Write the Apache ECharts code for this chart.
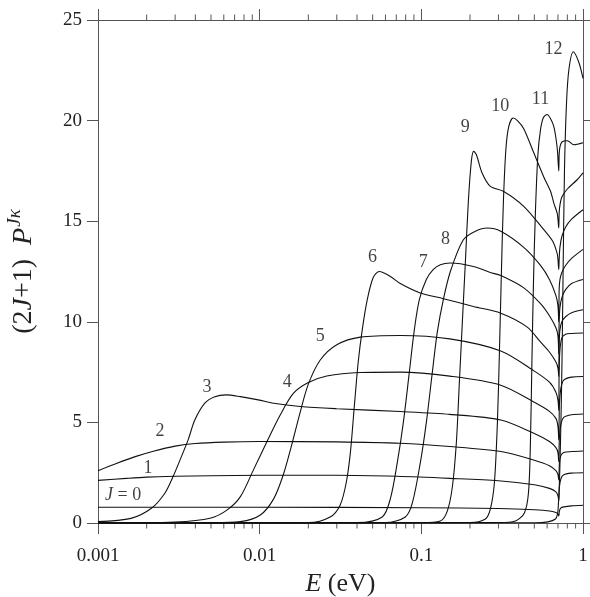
<!DOCTYPE html>
<html><head><meta charset="utf-8">
<script src="https://cdn.jsdelivr.net/npm/echarts@6/dist/echarts.min.js"></script>
<style>html,body{margin:0;padding:0;background:#fff}#c{width:590px;height:597px}</style>
</head><body><div id="c"></div>
<script>
// ---- axis ticks ----
const xMajorTicks = [0.001, 0.01, 0.1, 1];
const xMinorTicks = [0.002,0.003,0.004,0.005,0.006,0.007,0.008,0.009,
                     0.02,0.03,0.04,0.05,0.06,0.07,0.08,0.09,
                     0.2,0.3,0.4,0.5,0.6,0.7,0.8,0.9];
const yTicks = [0, 5, 10, 15, 20, 25];

// ---- curves: E (eV) and (2J+1)P values ----
const E0 = [0.001, 0.01, 0.1, 0.3, 0.5, 0.62, 0.68, 0.70, 0.708, 0.715, 0.73, 0.76, 0.85, 1];
const P0 = [0.78, 0.78, 0.76, 0.72, 0.66, 0.6, 0.52, 0.45, 0.35, 0.6, 0.75, 0.8, 0.85, 0.88];

const E1 = [0.001, 0.0015, 0.002, 0.003, 0.005, 0.01, 0.03, 0.07, 0.15, 0.3, 0.5, 0.62, 0.68, 0.70, 0.708, 0.715, 0.73, 0.76, 0.85, 1];
const P1 = [2.12, 2.22, 2.28, 2.32, 2.35, 2.37, 2.37, 2.32, 2.22, 2.1, 1.9, 1.72, 1.55, 1.35, 1.1, 1.8, 2.2, 2.4, 2.48, 2.5];

const E2 = [0.001, 0.0013, 0.0017, 0.0022, 0.003, 0.004, 0.006, 0.01, 0.03, 0.074, 0.15, 0.31, 0.5, 0.62, 0.68, 0.70, 0.708, 0.715, 0.73, 0.76, 0.85, 1];
const P2 = [2.6, 2.96, 3.3, 3.57, 3.82, 3.95, 4.02, 4.05, 4.03, 3.96, 3.8, 3.55, 3.12, 2.85, 2.6, 2.4, 2.14, 3.0, 3.35, 3.5, 3.55, 3.58];

const E3 = [0.001, 0.0016, 0.00214, 0.00259, 0.00291, 0.00328, 0.00361, 0.00397, 0.00458, 0.00528, 0.0062, 0.0076, 0.0098, 0.0122, 0.0178, 0.03, 0.074, 0.15, 0.31, 0.5, 0.62, 0.68, 0.70, 0.708, 0.715, 0.73, 0.76, 0.85, 1];
const P3 = [0.07, 0.23, 0.73, 1.48, 2.3, 3.3, 4.13, 5.12, 5.96, 6.28, 6.37, 6.28, 6.12, 5.95, 5.79, 5.68, 5.54, 5.4, 5.12, 4.45, 4.05, 3.75, 3.5, 3.05, 4.3, 4.9, 5.25, 5.38, 5.42];

const E4 = [0.001, 0.003, 0.005, 0.0063, 0.0076, 0.00915, 0.0111, 0.0134, 0.0162, 0.02, 0.026, 0.042, 0.074, 0.15, 0.31, 0.5, 0.62, 0.68, 0.70, 0.708, 0.715, 0.73, 0.76, 0.85, 1];
const P4 = [0.0, 0.05, 0.25, 0.65, 1.31, 2.64, 4.05, 5.37, 6.45, 6.98, 7.31, 7.48, 7.5, 7.3, 6.85, 6.0, 5.55, 5.2, 4.8, 4.13, 5.9, 6.7, 7.1, 7.25, 7.28];

const E5 = [0.001, 0.005, 0.0076, 0.0101, 0.0122, 0.014, 0.0158, 0.0178, 0.02, 0.0237, 0.03, 0.042, 0.074, 0.15, 0.31, 0.5, 0.62, 0.68, 0.70, 0.708, 0.712, 0.72, 0.74, 0.78, 0.85, 1];
const P5 = [0, 0.01, 0.07, 0.4, 1.2, 2.4, 3.9, 5.5, 6.9, 8.1, 8.86, 9.24, 9.32, 9.15, 8.55, 7.55, 7.0, 6.5, 6.1, 5.6, 7.6, 8.6, 9.2, 9.38, 9.42, 9.44];

const E6 = [0.001, 0.02, 0.0273, 0.0315, 0.0343, 0.0364, 0.0385, 0.0407, 0.0431, 0.0463, 0.0504, 0.055, 0.0643, 0.0741, 0.0986, 0.137, 0.21, 0.31, 0.45, 0.546, 0.62, 0.68, 0.70, 0.708, 0.712, 0.72, 0.74, 0.78, 0.85, 1];
const P6 = [0, 0.02, 0.3, 0.9, 2.0, 3.5, 5.8, 8.0, 9.6, 11.1, 12.2, 12.5, 12.25, 11.9, 11.43, 11.15, 10.76, 10.43, 9.75, 9.0, 8.5, 8.0, 7.7, 7.28, 8.9, 9.6, 10.0, 10.25, 10.45, 10.6];

const E7 = [0.001, 0.04, 0.0573, 0.0643, 0.071, 0.0774, 0.0843, 0.0905, 0.0972, 0.1074, 0.1187, 0.1311, 0.1512, 0.21, 0.267, 0.31, 0.428, 0.546, 0.62, 0.68, 0.70, 0.708, 0.712, 0.72, 0.74, 0.78, 0.85, 1];
const P7 = [0, 0.02, 0.3, 1.2, 3.0, 5.0, 7.5, 9.6, 11.1, 12.1, 12.6, 12.84, 12.92, 12.75, 12.45, 12.3, 11.7, 10.9, 10.3, 9.7, 9.3, 8.4, 10.0, 10.7, 11.2, 11.6, 11.9, 12.1];

const E8 = [0.001, 0.06, 0.0796, 0.088, 0.0986, 0.1074, 0.117, 0.1256, 0.1368, 0.1512, 0.182, 0.216, 0.256, 0.31, 0.43, 0.546, 0.62, 0.68, 0.70, 0.708, 0.712, 0.72, 0.74, 0.78, 0.85, 1];
const P8 = [0, 0.02, 0.3, 1.0, 3.0, 5.0, 7.5, 9.5, 11.1, 12.5, 14.08, 14.5, 14.66, 14.5, 13.7, 12.8, 12.1, 11.3, 10.8, 10.0, 11.6, 12.1, 12.45, 12.8, 13.15, 13.6];

const E9 = [0.001, 0.1, 0.1311, 0.1449, 0.1556, 0.1647, 0.1719, 0.1794, 0.1873, 0.1954, 0.204, 0.2108, 0.2191, 0.2376, 0.2674, 0.3233, 0.43, 0.572, 0.65, 0.692, 0.70, 0.708, 0.712, 0.72, 0.74, 0.78, 0.85, 1];
const P9 = [0, 0.02, 0.1, 0.6, 1.8, 4.0, 7.0, 10.0, 13.0, 16.0, 18.0, 18.47, 18.3, 17.4, 16.73, 16.48, 15.74, 14.58, 14.0, 13.4, 13.1, 12.6, 13.1, 13.7, 14.24, 14.7, 15.1, 15.57];

const E10 = [0.001, 0.2, 0.249, 0.2674, 0.2831, 0.2955, 0.3041, 0.3129, 0.3219, 0.3336, 0.3472, 0.3697, 0.393, 0.43, 0.496, 0.572, 0.629, 0.66, 0.692, 0.70, 0.708, 0.712, 0.72, 0.74, 0.8, 0.92, 1];
const P10 = [0, 0.02, 0.2, 0.7, 2.0, 5.0, 8.5, 12.5, 16.0, 18.6, 19.7, 20.13, 20.0, 19.6, 18.4, 17.2, 16.5, 15.9, 15.4, 15.1, 14.66, 15.4, 15.8, 16.2, 16.6, 17.06, 17.4];

const E11 = [0.001, 0.3, 0.382, 0.434, 0.46, 0.473, 0.483, 0.494, 0.508, 0.526, 0.546, 0.569, 0.6, 0.629, 0.66, 0.681, 0.695, 0.708, 0.712, 0.72, 0.743, 0.8, 0.877, 1];
const P11 = [0, 0.02, 0.1, 0.5, 1.5, 4.0, 8.0, 12.0, 15.5, 18.3, 19.55, 20.15, 20.3, 20.1, 19.7, 19.1, 18.5, 17.5, 18.3, 18.7, 18.95, 19.0, 18.8, 18.9];

const E12 = [0.001, 0.5, 0.6755, 0.705, 0.7256, 0.7413, 0.752, 0.768, 0.79, 0.817, 0.87, 0.942, 1];
const P12 = [0, 0.01, 0.2, 1.0, 4.0, 8.0, 12.0, 17.5, 20.8, 22.5, 23.42, 22.9, 22.1];

// ---- curve labels ----
const labelText = ['{i|J} = 0', '1', '2', '3', '4', '5', '6', '7', '8', '9', '10', '11', '12'];
const labelE = [0.00143, 0.00204, 0.00242, 0.00473, 0.0148, 0.0237, 0.0498, 0.1028, 0.141, 0.187, 0.308, 0.546, 0.656];
const labelP = [1.38, 2.74, 4.58, 6.77, 7.01, 9.30, 13.23, 12.94, 14.08, 19.65, 20.7, 21.04, 23.53];

const curvesE = [E0,E1,E2,E3,E4,E5,E6,E7,E8,E9,E10,E11,E12];
const curvesP = [P0,P1,P2,P3,P4,P5,P6,P7,P8,P9,P10,P11,P12];

const FONT = 'Liberation Serif';
const AXC = '#555';
const TXT = '#222';

const chart = echarts.init(document.getElementById('c'), null, {renderer: 'canvas'});

const series = curvesE.map((E, j) => ({
  type: 'line',
  name: 'J' + j,
  data: E.map((e, i) => [e, curvesP[j][i]]),
  showSymbol: false,
  smooth: 0.3,
  lineStyle: {color: '#111', width: 1.1},
  silent: true,
  animation: false,
  z: 3
}));

series.push({
  type: 'custom',
  name: 'minorTicks',
  clip: false,
  silent: true,
  animation: false,
  data: xMinorTicks.map(v => [v, 0]),
  renderItem: function (params, api) {
    const v = api.value(0);
    const b = api.coord([v, 0]);
    const t = api.coord([v, 25]);
    return {
      type: 'group',
      children: [
        {type: 'line', shape: {x1: b[0], y1: b[1], x2: b[0], y2: b[1] + 5.5}, style: {stroke: AXC, lineWidth: 1}},
        {type: 'line', shape: {x1: t[0], y1: t[1], x2: t[0], y2: t[1] - 5.5}, style: {stroke: AXC, lineWidth: 1}}
      ]
    };
  },
  z: 2
});

series.push({
  type: 'scatter',
  name: 'labels',
  symbolSize: 0,
  silent: true,
  animation: false,
  data: labelE.map((e, i) => [e, labelP[i], labelText[i]]),
  label: {
    show: true,
    position: 'inside',
    formatter: p => p.data[2],
    fontFamily: FONT,
    fontSize: 18,
    color: '#111',
    rich: {i: {fontFamily: FONT, fontSize: 18, fontStyle: 'italic', color: '#111'}}
  },
  z: 4
});

const fmt = v => {
  const m = {'-3': '0.001', '-2': '0.01', '-1': '0.1', '0': '1'};
  const k = Math.round(Math.log10(v));
  return m[String(k)] || String(v);
};

chart.setOption({
  animation: false,
  backgroundColor: '#fff',
  grid: {left: 98, right: 7, top: 20, bottom: 74, containLabel: false, outerBoundsMode: 'none'},
  xAxis: [
    {
      type: 'log', logBase: 10, min: xMajorTicks[0], max: xMajorTicks[xMajorTicks.length - 1],
      position: 'bottom',
      name: '{i|E} (eV)', nameLocation: 'middle', nameGap: 42,
      nameTextStyle: {fontFamily: FONT, fontSize: 26, color: TXT,
        rich: {i: {fontFamily: FONT, fontSize: 26, fontStyle: 'italic', color: TXT}}},
      axisLine: {show: true, onZero: false, lineStyle: {color: AXC, width: 1}},
      axisTick: {show: true, inside: false, length: 11, lineStyle: {color: AXC}},
      minorTick: {show: false},
      axisLabel: {show: true, margin: 24, fontFamily: FONT, fontSize: 19, color: TXT, formatter: fmt},
      splitLine: {show: false}
    },
    {
      type: 'log', logBase: 10, min: xMajorTicks[0], max: xMajorTicks[xMajorTicks.length - 1],
      position: 'top',
      axisLine: {show: true, onZero: false, lineStyle: {color: AXC, width: 1}},
      axisTick: {show: true, inside: false, length: 11, lineStyle: {color: AXC}},
      axisLabel: {show: false},
      splitLine: {show: false}
    }
  ],
  yAxis: [
    {
      type: 'value', min: yTicks[0], max: yTicks[yTicks.length - 1], interval: 5,
      position: 'left',
      name: '{t|(2}{ti|J}{t|+1)\u00a0\u00a0}{ti|P}{s|J\u03ba}',
      nameLocation: 'middle', nameGap: 56, nameRotate: 90,
      nameTextStyle: {fontFamily: FONT, fontSize: 28, color: TXT,
        rich: {
          t: {fontFamily: FONT, fontSize: 28, color: TXT},
          ti: {fontFamily: FONT, fontSize: 28, fontStyle: 'italic', color: TXT},
          s: {fontFamily: FONT, fontSize: 19, fontStyle: 'italic', color: TXT, padding: [0, 0, 18, 1]}
        }},
      axisLine: {show: true, onZero: false, lineStyle: {color: AXC, width: 1}},
      axisTick: {show: true, inside: false, length: 11, lineStyle: {color: AXC}},
      axisLabel: {show: true, margin: 16, fontFamily: FONT, fontSize: 19, color: TXT},
      splitLine: {show: false}
    },
    {
      type: 'value', min: yTicks[0], max: yTicks[yTicks.length - 1], interval: 5,
      position: 'right',
      axisLine: {show: true, onZero: false, lineStyle: {color: AXC, width: 1}},
      axisTick: {show: true, inside: false, length: 7, lineStyle: {color: AXC}},
      axisLabel: {show: false},
      splitLine: {show: false}
    }
  ],
  series: series
});
</script>
</body></html>
